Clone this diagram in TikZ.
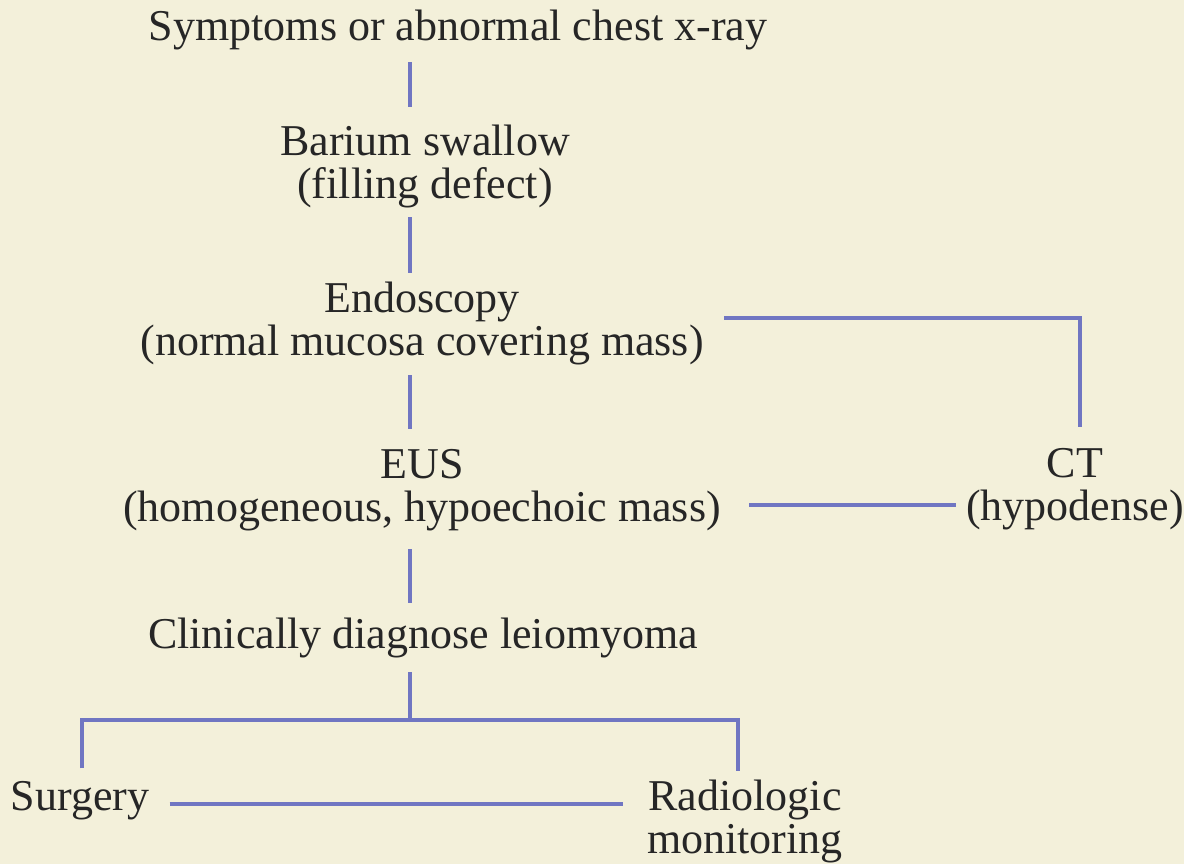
\documentclass[tikz,border=0pt]{standalone}
\usepackage{fontspec}
\setmainfont{Liberation Serif}
\usepackage{xcolor}
\usepackage{tikz}
\usetikzlibrary{positioning,calc}
\definecolor{paper}{RGB}{243,240,218}
\definecolor{wire}{RGB}{112,118,194}
\tikzset{
  % --- text blocks -----------------------------------------------------------
  stage/.style={inner sep=0pt,align=center,anchor=base,
                font=\fontsize{22}{21.5}\selectfont,text=black!85},
  % --- connectors ------------------------------------------------------------
  link/.style={wire,line width=2pt},
}
\begin{document}
\begin{tikzpicture}[x=0.5pt, y=-0.5pt]
  \useasboundingbox[fill=paper] (0,0) rectangle (1184,864);
  % --- the work-up, top to bottom (base = last line) -----------------------
  \node[stage] (sym)  at (458,40)  {Symptoms or abnormal chest x-ray};
  \node[stage] (bar)  at (425,198) {Barium swallow\\(filling defect)};
  \node[stage] (endo) at (422,355) {Endoscopy\\(normal mucosa covering mass)};
  \node[stage] (eus)  at (422,521) {EUS\\(homogeneous, hypoechoic mass)};
  \node[stage] (ct)   at (1075,520) {CT\\(hypodense)};
  \node[stage] (clin) at (423,648) {Clinically diagnose leiomyoma};
  % --- the two options -----------------------------------------------------
  \node[stage] (surg)  at (80,810)  {Surgery};
  \node[stage] (radio) at (745,853) {Radiologic\\monitoring};

  \coordinate (spine) at (410,0);
  \coordinate (ctbend) at (1080,318);
  \coordinate (ctrow)  at (0,505);
  \coordinate (fork)   at (410,720);
  \coordinate (forkL)  at (82,720);
  \coordinate (forkR)  at (738,720);
  \coordinate (optrow) at (0,804);

  \draw[link,shorten <=6.2pt,shorten >=8.3pt] (sym.south -| spine) -- (bar.north -| spine);
  \draw[link,shorten <=4.7pt,shorten >=3.8pt] (bar.south -| spine) -- (endo.north -| spine);
  \draw[link,shorten <=5.2pt,shorten >=9.5pt] (endo.south -| spine) -- (eus.north -| spine);
  \draw[link,shorten <=9.2pt,shorten >=6.8pt] (eus.south -| spine) -- (clin.north -| spine);
  % endoscopy and EUS both lead across to CT
  \draw[link,shorten <=10pt,shorten >=10pt] (endo.east |- ctbend) -- (ctbend) -- (ct.north -| ctbend);
  \draw[link,shorten <=14pt,shorten >=5pt] (eus.east |- ctrow) -- (ct.west |- ctrow);
  % the fork below the diagnosis
  \draw[link,shorten <=7.2pt] (clin.south -| fork) -- (fork);
  \draw[link,shorten <=6pt,shorten >=4pt] (surg.north -| forkL) -- (forkL) -- (forkR) -- (radio.north -| forkR);
  \draw[link,shorten <=10pt,shorten >=12pt] (surg.east |- optrow) -- (radio.west |- optrow);
\end{tikzpicture}
\end{document}
